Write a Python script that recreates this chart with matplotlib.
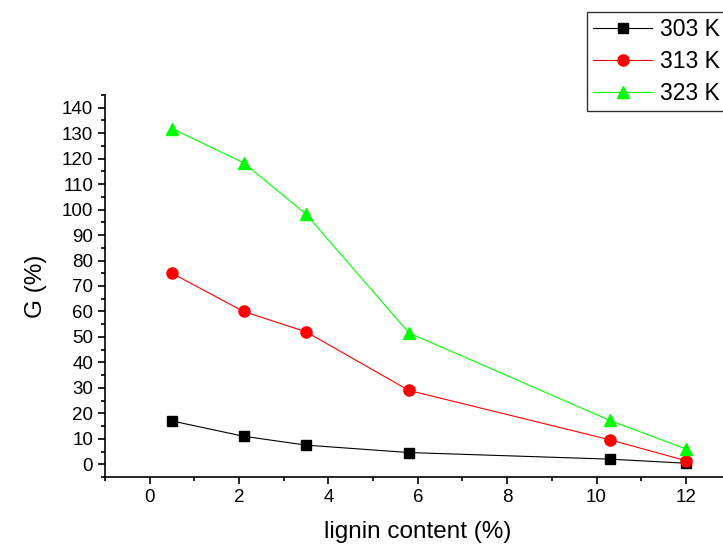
import matplotlib.pyplot as plt
from matplotlib.ticker import MultipleLocator

plt.rcParams['font.family'] = ['Liberation Sans', 'DejaVu Sans']

# lignin content (%)
lignin = [0.5, 2.1, 3.5, 5.8, 10.3, 12.0]
g_303 = [17.0, 11.0, 7.5, 4.6, 2.0, 0.4]
g_313 = [75.0, 60.0, 52.0, 29.0, 9.6, 1.4]
g_323 = [131.8, 118.4, 98.2, 51.6, 17.2, 6.0]

fig = plt.figure(figsize=(7.23, 5.44), dpi=100)
ax = fig.add_axes([0.1452, 0.1232, 0.8653, 0.7022])

ax.plot(lignin, g_303, '-s', color='black', lw=0.8, ms=7, label='303 K')
ax.plot(lignin, g_313, '-o', color='red', lw=0.8, ms=8, label='313 K')
ax.plot(lignin, g_323, '-^', color='#00ff00', lw=0.8, ms=8.5, label='323 K')

ax.set_xlim(-1, 13)
ax.set_ylim(-5, 145)
ax.xaxis.set_major_locator(MultipleLocator(2))
ax.xaxis.set_minor_locator(MultipleLocator(1))
ax.yaxis.set_major_locator(MultipleLocator(10))
ax.yaxis.set_minor_locator(MultipleLocator(5))
ax.tick_params(which='major', direction='out', length=5, width=1.2, labelsize=13.5)
ax.tick_params(which='minor', direction='out', length=3, width=1.2)
for s in ['top', 'right']:
    ax.spines[s].set_visible(False)
for s in ['left', 'bottom']:
    ax.spines[s].set_linewidth(1.2)

ax.set_xlabel('lignin content (%)', fontsize=17.5, labelpad=11)
ax.set_ylabel('G (%)', fontsize=17.5, labelpad=11)

fig.legend(loc='upper left', bbox_to_anchor=(587 / 723, 1 - 12 / 544),
           fontsize=16.5, frameon=True, fancybox=False, edgecolor='black',
           handlelength=2.6, borderaxespad=0, borderpad=0.25, labelspacing=0.4,
           handletextpad=0.35).get_frame().set_linewidth(1.0)

fig.savefig('out.png', dpi=100)
